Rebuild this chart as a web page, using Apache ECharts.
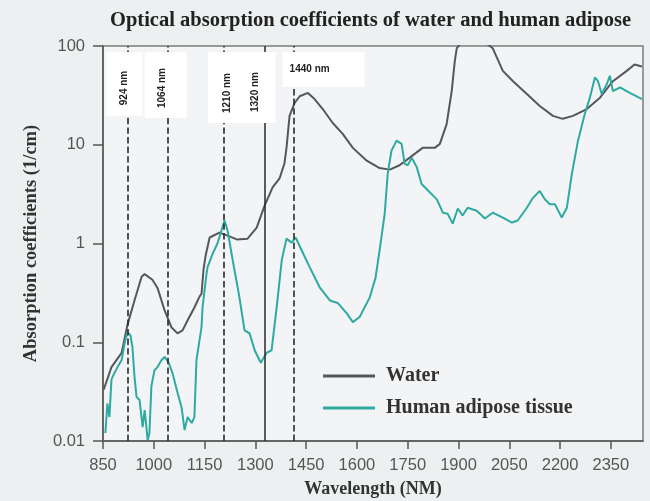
<!DOCTYPE html>
<html>
<head>
<meta charset="utf-8">
<script src="https://cdn.jsdelivr.net/npm/echarts@6/dist/echarts.min.js"></script>
<style>
  html, body { margin: 0; padding: 0; background: #fff; }
  #chart { width: 650px; height: 501px; }
</style>
</head>
<body>
<div id="chart"></div>
<script>
// x ticks and y ticks
const xTicks = [850, 1000, 1150, 1300, 1450, 1600, 1750, 1900, 2050, 2200, 2350];
const yTickLabels = ['0.01', '0.1', '1', '10', '100'];

// water absorption (1/cm)
const waterNm = [852, 875, 905, 922, 943, 964, 973, 996, 1011, 1032, 1052, 1070, 1085, 1100, 1120, 1135, 1141, 1147, 1153, 1165,
  1194, 1218, 1245, 1277, 1304, 1327, 1351, 1372, 1386, 1392, 1401, 1416, 1431, 1455, 1475, 1499, 1528, 1558, 1588, 1629,
  1667, 1697, 1726, 1756, 1794, 1830, 1845, 1865, 1880, 1889, 1895, 1915, 1935, 1970, 2001, 2031, 2061, 2102, 2140, 2179,
  2208, 2238, 2279, 2318, 2356, 2397, 2420, 2442];
const waterAbs = [0.033, 0.056, 0.078, 0.149, 0.265, 0.46, 0.49, 0.43, 0.355, 0.21, 0.142, 0.123, 0.132, 0.167, 0.225, 0.29, 0.31, 0.55, 0.75, 1.15,
  1.29, 1.2, 1.1, 1.12, 1.45, 2.4, 3.7, 4.6, 6.5, 9.3, 19.6, 26.5, 31, 33.5, 29, 23, 16.7, 12.9, 9.3, 6.9,
  5.8, 5.6, 6.2, 7.4, 9.3, 9.3, 10.2, 16.2, 35, 70, 95, 115, 125, 115, 95, 56, 44, 32.7, 24.7, 19.6,
  18.3, 19.6, 23, 30, 44, 56, 65, 62];

// human adipose tissue absorption (1/cm)
const fatNm = [857, 863, 869, 875, 884, 893, 905, 914, 922, 931, 937, 943, 949, 958, 967, 973, 982, 987, 993, 1002,
  1011, 1023, 1032, 1044, 1055, 1070, 1082, 1091, 1100, 1112, 1120, 1126, 1141, 1144, 1156, 1159, 1174, 1188, 1209, 1218,
  1233, 1253, 1268, 1283, 1298, 1316, 1333, 1348, 1363, 1378, 1392, 1407, 1419, 1437, 1460, 1490, 1520, 1543, 1570, 1588,
  1608, 1638, 1655, 1667, 1682, 1691, 1702, 1717, 1732, 1741, 1750, 1762, 1777, 1791, 1815, 1836, 1854, 1868, 1883, 1898,
  1912, 1927, 1954, 1978, 2001, 2031, 2058, 2075, 2102, 2120, 2140, 2155, 2170, 2185, 2205, 2220, 2235, 2253, 2273, 2288,
  2303, 2312, 2323, 2338, 2347, 2356, 2377, 2406, 2442];
const fatAbs = [0.012, 0.024, 0.0175, 0.042, 0.049, 0.056, 0.066, 0.098, 0.126, 0.118, 0.089, 0.045, 0.028, 0.026, 0.0138, 0.0206, 0.0102, 0.012, 0.036, 0.052,
  0.056, 0.066, 0.071, 0.062, 0.049, 0.031, 0.022, 0.0129, 0.0175, 0.0152, 0.0175, 0.066, 0.142, 0.225, 0.5, 0.58, 0.79, 1.0, 1.71, 1.35,
  0.68, 0.285, 0.132, 0.123, 0.083, 0.062, 0.078, 0.083, 0.225, 0.68, 1.12, 1.02, 1.15, 0.85, 0.58, 0.36, 0.265, 0.25, 0.196, 0.16,
  0.18, 0.285, 0.45, 0.85, 2.0, 5.1, 8.7, 11, 10.2, 6.4, 6.2, 7.4, 5.9, 4.0, 3.3, 2.8, 2.05, 2.0, 1.59, 2.26,
  1.92, 2.3, 2.15, 1.79, 2.05, 1.83, 1.63, 1.71, 2.3, 2.9, 3.4, 2.8, 2.5, 2.5, 1.83, 2.3, 5.1, 11, 20.5, 30,
  48, 44, 32.7, 41, 50, 35, 38, 33.5, 29];

// marker lines: where they sit on the plot, and their labels
const markerNm = [922, 1041, 1207, 1327, 1413];
const markerLabels = ['924 nm', '1064 nm', '1210 nm', '1320 nm', '1440 nm'];
const markerDash = ['dashed', 'dashed', 'dashed', 'solid', 'dashed'];

const zip = (xs, ys) => xs.map((x, i) => [x, ys[i]]);

const serif = 'Liberation Serif';
const sans = 'Liberation Sans';

const chart = echarts.init(document.getElementById('chart'));

const option = {
  backgroundColor: '#edf0f1',
  animation: false,
  title: {
    text: 'Optical absorption coefficients of water and human adipose',
    left: 105,
    top: 5,
    textStyle: { fontFamily: serif, fontWeight: 'bold', fontSize: 20.5, color: '#222' }
  },
  legend: {
    orient: 'vertical',
    left: 318,
    top: 361,
    icon: 'rect',
    itemWidth: 52,
    itemHeight: 3,
    itemGap: 12,
    data: ['Water', 'Human adipose tissue'],
    textStyle: { fontFamily: serif, fontWeight: 'bold', fontSize: 20, color: '#333', padding: [0, 0, 0, 6] }
  },
  grid: {
    left: 103,
    right: 7,
    top: 46,
    bottom: 60,
    outerBoundsMode: 'none',
    show: true,
    backgroundColor: '#f2f4f5',
    borderColor: '#7c7c7c',
    borderWidth: 1.5
  },
  xAxis: {
    type: 'value',
    min: 850,
    max: 2445,
    name: 'Wavelength (NM)',
    nameLocation: 'middle',
    nameGap: 39,
    nameTextStyle: { fontFamily: serif, fontWeight: 'bold', fontSize: 18, color: '#333' },
    axisLine: { lineStyle: { color: '#555', width: 1.5 } },
    axisTick: { customValues: xTicks, length: 8, lineStyle: { color: '#555', width: 1.5 } },
    axisLabel: {
      customValues: xTicks, fontFamily: sans, fontSize: 16.5, color: '#555', margin: 16,
      formatter: (v) => String(v)
    },
    splitLine: { show: false }
  },
  yAxis: {
    type: 'log',
    logBase: 10,
    min: 0.01,
    max: 100,
    name: 'Absorption coefficients (1/cm)',
    nameLocation: 'middle',
    nameRotate: 90,
    nameGap: 62,
    nameTextStyle: { fontFamily: serif, fontWeight: 'bold', fontSize: 18.5, color: '#333' },
    axisLine: { show: true, lineStyle: { color: '#555', width: 1.5 } },
    axisTick: { length: 10, lineStyle: { color: '#555', width: 1.5 } },
    axisLabel: {
      fontFamily: sans, fontSize: 16.5, color: '#555', margin: 18,
      formatter: (v) => yTickLabels[Math.round(Math.log10(v)) + 2]
    },
    splitLine: { show: false },
    minorTick: { show: false }
  },
  series: [
    {
      name: 'Water',
      type: 'line',
      data: zip(waterNm, waterAbs),
      symbol: 'none',
      clip: true,
      color: '#56575c',
      lineStyle: { width: 2, color: '#56575c' },
      markLine: {
        silent: true,
        symbol: ['none', 'none'],
        label: { show: false },
        data: markerNm.map((nm, i) => ({
          xAxis: nm,
          lineStyle: { type: markerDash[i], color: '#2a2a2a', width: markerDash[i] === 'solid' ? 1.5 : 1.6 }
        }))
      }
    },
    {
      name: 'Human adipose tissue',
      type: 'line',
      data: zip(fatNm, fatAbs),
      symbol: 'none',
      clip: true,
      color: '#2eaaa3',
      lineStyle: { width: 2, color: '#2eaaa3' }
    }
  ]
};

chart.setOption(option);

// label boxes over the top of the marker lines: [dx of box, width, height, text dx, text cy, vertical]
const boxLayout = [
  [-21, 36, 64, -3, 88, true],
  [-23, 42, 66, -5, 88, true],
  [-16, 44, 71, 3, 93, true],
  [-13, 24, 71, -9, 92, true],
  [-11, 82, 35, -4, 69, false]
];
const graphics = [];
markerNm.forEach((nm, i) => {
  const lx = chart.convertToPixel({ xAxisIndex: 0 }, nm);
  const [dx, w, h, tdx, tcy, vertical] = boxLayout[i];
  graphics.push({
    type: 'rect', z: 100,
    shape: { x: lx + dx, y: 52, width: w, height: h },
    style: { fill: '#ffffff' }
  });
  graphics.push({
    type: 'text', z: 101,
    x: lx + tdx,
    y: tcy,
    rotation: vertical ? Math.PI / 2 : 0,
    style: {
      text: markerLabels[i],
      fontFamily: sans, fontWeight: 'bold', fontSize: 10, fill: '#222',
      align: vertical ? 'center' : 'left',
      verticalAlign: 'middle'
    }
  });
});
chart.setOption({ graphic: graphics });
</script>
</body>
</html>
